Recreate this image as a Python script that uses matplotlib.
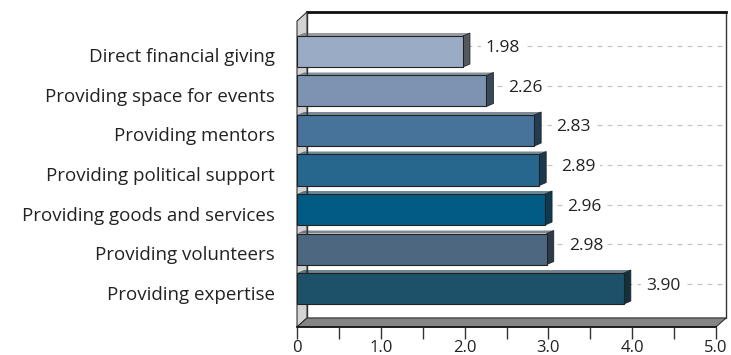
import numpy as np
import matplotlib
matplotlib.use('Agg')
from matplotlib import pyplot as plt
from matplotlib.patches import Polygon
from matplotlib.transforms import offset_copy, IdentityTransform

categories = ['Direct financial giving', 'Providing space for events',
              'Providing mentors', 'Providing political support',
              'Providing goods and services', 'Providing volunteers',
              'Providing expertise']
values = [1.98, 2.26, 2.83, 2.89, 2.96, 2.98, 3.90]
bar_colors = ['#9aabc5', '#7c93b1', '#47729a', '#27678d', '#015b85', '#4e6780', '#1c5169']
side_colors = ['#55595f', '#38495c', '#243c52', '#1a3a50', '#0d3a52', '#2c3b49', '#13303e']
xtick_labels = ['0', '1.0', '2.0', '3.0', '4.0', '5.0']

plt.rcParams['font.family'] = ['Open Sans', 'DejaVu Sans']

W, H = 731, 355
fig = plt.figure(figsize=(W / 100, H / 100), dpi=100)
ax = fig.add_axes([297 / W, 28 / H, (716 - 297) / W, (327 - 21) / H])
ax.set_facecolor('none')

n = len(categories)
idx = np.arange(n)
margin = 0.873
ax.set_xlim(0, 5)
ax.set_ylim(n - 1 + margin, -margin)
ax.set_autoscale_on(False)

# pseudo 3d offsets, in pixels
wall_dx, wall_dy = 10, 9
bar_dx, bar_dy = 7, 3
bar_lift = 4
back_tf = offset_copy(ax.transData, fig=fig, x=wall_dx, y=wall_dy, units='dots')
bar_tf = offset_copy(ax.transData, fig=fig, x=0, y=bar_lift, units='dots')
px = IdentityTransform()

def to_px(x, y):
    return ax.transData.transform((x, y))

def add_poly(pts, z, **kw):
    p = Polygon(pts, closed=True, transform=px, zorder=z, clip_on=False, **kw)
    ax.add_artist(p)
    return p

y_bot, y_top = n - 1 + margin, -margin
fb = to_px(0, y_bot); fr = to_px(5, y_bot); ft = to_px(0, y_top); frt = to_px(5, y_top)
d = np.array([wall_dx, wall_dy])

# back wall, left wall, floor
add_poly([fb + d, ft + d, frt + d, fr + d], 0.1, facecolor='white', edgecolor='#333333', lw=1.0)
ax.add_artist(plt.Line2D([ft[0] + d[0], frt[0] + d[0]], [ft[1] + d[1], frt[1] + d[1]],
                         color='#111111', lw=2.0, transform=px, zorder=0.2, clip_on=False))
add_poly([fb, ft, ft + d, fb + d], 0.3, facecolor='#d3d3d3', edgecolor='#333333', lw=0.8)
add_poly([fb, fr, fr + d, fb + d], 0.3, facecolor='#858585', edgecolor='#333333', lw=0.8)

# gridlines on back wall
ax.hlines(idx, 0, 5, transform=back_tf, colors='#c4c4c4', linestyles=(0, (4, 4)),
          lw=0.9, zorder=1, clip_on=False)

# bars
bh = 0.785
ax.barh(idx, values, height=bh, color=bar_colors, edgecolor='#222222', lw=0.8,
        transform=bar_tf, zorder=3, clip_on=False)
for i, v in enumerate(values):
    p0 = to_px(v, i + bh / 2) + [0, bar_lift]
    p1 = to_px(v, i - bh / 2) + [0, bar_lift]
    q0 = to_px(0, i - bh / 2) + [0, bar_lift]
    add_poly([q0, p1, p1 + [bar_dx, bar_dy], q0 + [bar_dx, bar_dy]], 2.4,
             facecolor=side_colors[i], edgecolor='none', alpha=0.6)
    add_poly([p0, p1, p1 + [bar_dx, bar_dy], p0 + [bar_dx, bar_dy]], 2.5,
             facecolor=side_colors[i], edgecolor='#222222', lw=0.6)
    ax.annotate(f'{v:.2f}', (v, i), xytext=(bar_dx + 15, bar_lift + 3),
                textcoords='offset pixels', ha='left', va='center', fontsize=12.5,
                color='#222222', zorder=4, annotation_clip=False,
                bbox=dict(boxstyle='square,pad=0.25', fc='white', ec='none'))

# axes styling
for s in ['top', 'right', 'left']:
    ax.spines[s].set_visible(False)
ax.spines['bottom'].set_color('#111111')
ax.spines['bottom'].set_linewidth(1.2)
ax.spines['bottom'].set_zorder(5)
ax.set_xticks(np.arange(6))
ax.set_xticklabels(xtick_labels)
ax.set_xticks(np.arange(0.5, 5, 1), minor=True)
ax.tick_params(axis='x', which='both', direction='out', length=8.5, width=1.0,
               color='#333333', labelsize=12, pad=0.5, labelcolor='#222222')
ax.set_yticks(idx)
ax.set_yticklabels(categories)
ax.tick_params(axis='y', length=0, pad=16, labelsize=13.5, labelcolor='#222222')

fig.savefig('out.png', dpi=100)
